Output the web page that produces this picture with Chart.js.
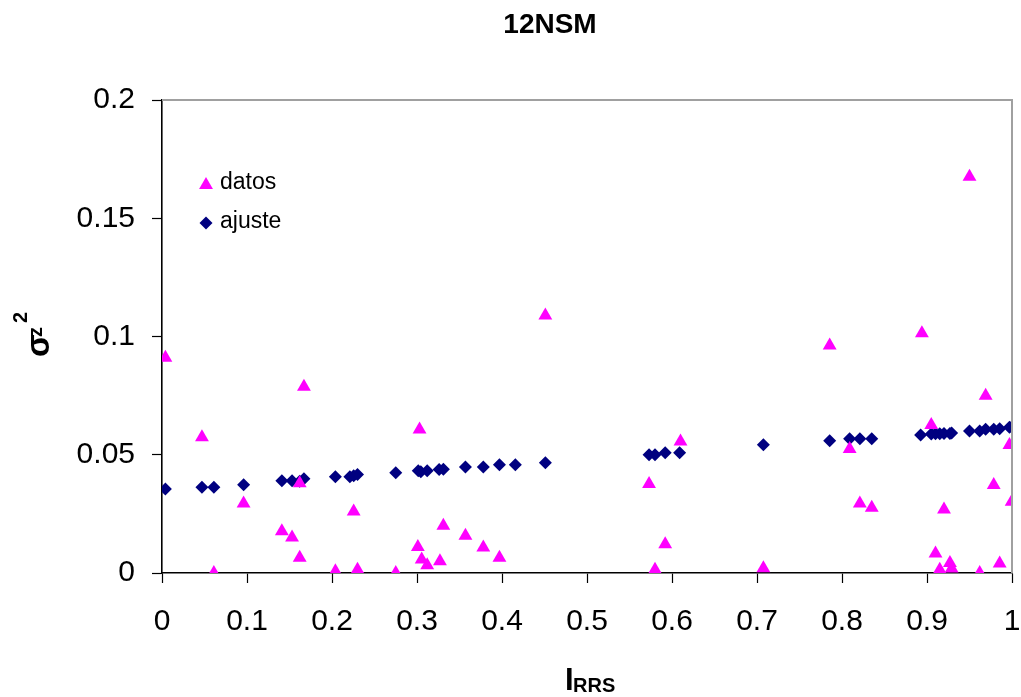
<!DOCTYPE html>
<html>
<head>
<meta charset="utf-8">
<script src="https://cdn.jsdelivr.net/npm/chart.js@4/dist/chart.umd.min.js"></script>
<style>
html,body{margin:0;padding:0;background:#fff;}
#wrap{width:1021px;height:697px;position:relative;}
</style>
</head>
<body>
<div id="wrap"><canvas id="c" width="1021" height="697"></canvas></div>
<script>
// datos (triangles)
const datosX = [0.004,0.047,0.061,0.096,0.141,0.153,0.162,0.162,0.167,0.204,0.2255,0.230,0.275,0.303,0.301,0.3055,0.312,0.327,0.331,0.357,0.378,0.397,0.451,0.573,0.580,0.592,0.610,0.7075,0.7855,0.809,0.821,0.835,0.894,0.905,0.910,0.915,0.920,0.927,0.929,0.950,0.962,0.969,0.9785,0.9855,0.997,0.9996];
const datosY = [0.091,0.0574,0.0,0.0294,0.0177,0.015,0.0379,0.0065,0.0788,0.0007,0.026,0.0014,0.0,0.0607,0.011,0.0057,0.0033,0.005,0.020,0.0157,0.0108,0.0065,0.1089,0.0376,0.0014,0.0122,0.0556,0.002,0.0962,0.0524,0.0294,0.0276,0.1014,0.0626,0.0082,0.0014,0.0269,0.0042,0.0019,0.1675,0.0,0.075,0.0372,0.004,0.0541,0.0301];
// ajuste (diamonds)
const ajusteX = [0.004,0.047,0.061,0.096,0.141,0.153,0.162,0.167,0.204,0.221,0.2255,0.230,0.275,0.3015,0.3045,0.312,0.326,0.331,0.357,0.378,0.397,0.4157,0.451,0.573,0.580,0.592,0.609,0.7075,0.7855,0.809,0.821,0.835,0.8925,0.905,0.910,0.915,0.920,0.927,0.929,0.950,0.962,0.969,0.9785,0.9855,0.997,0.9996];
const ajusteY = [0.0355,0.0363,0.0363,0.0373,0.039,0.039,0.0388,0.0398,0.0407,0.0407,0.0411,0.0417,0.0424,0.0432,0.0428,0.0432,0.0438,0.0439,0.0448,0.0448,0.0458,0.0458,0.0466,0.050,0.050,0.0508,0.0508,0.0542,0.0559,0.0568,0.0568,0.0568,0.0583,0.0588,0.0589,0.0589,0.059,0.059,0.0592,0.060,0.060,0.0608,0.0608,0.061,0.0616,0.0617];

const xTicks = [0,0.1,0.2,0.3,0.4,0.5,0.6,0.7,0.8,0.9,1];
const yTicks = [0,0.05,0.1,0.15,0.2];
const seriesNames = ['datos','ajuste'];
const chartTitle = '12NSM';

const MAG = '#FF00FF', NAVY = '#000080';
const FONT = '"Liberation Sans", Arial, sans-serif';

const toPts = (xs, ys) => xs.map((x, i) => ({x: x, y: ys[i]}));

const decor = {
  id: 'decor',
  afterDraw(chart) {
    const ctx = chart.ctx;
    const a = chart.chartArea;
    ctx.save();
    // top/right gray border
    ctx.strokeStyle = '#a0a0a0';
    ctx.lineWidth = 2;
    ctx.beginPath();
    ctx.moveTo(a.left, a.top);
    ctx.lineTo(a.right, a.top);
    ctx.lineTo(a.right, a.bottom);
    ctx.stroke();

    ctx.fillStyle = '#000';
    // title
    ctx.font = 'bold 28px ' + FONT;
    ctx.textAlign = 'center';
    ctx.textBaseline = 'alphabetic';
    ctx.fillText(chartTitle, 550, 33);

    // x axis title I_RRS
    ctx.textAlign = 'left';
    ctx.font = 'bold 31px ' + FONT;
    ctx.fillText('I', 565, 690);
    ctx.font = 'bold 20px ' + FONT;
    ctx.fillText('RRS', 573, 692);

    // y axis title sigma_z^2
    ctx.save();
    ctx.translate(48.5, 357);
    ctx.rotate(-Math.PI / 2);
    ctx.font = 'bold 33px ' + FONT;
    ctx.fillText('σ', 0, 0);
    ctx.font = 'bold 20px ' + FONT;
    ctx.fillText('z', 20, -6.8);
    ctx.fillText('2', 34, -21.8);
    ctx.restore();

    // legend
    ctx.font = '23px ' + FONT;
    ctx.fillText(seriesNames[0], 220, 189);
    ctx.fillText(seriesNames[1], 220, 228);
    // markers
    ctx.fillStyle = MAG;
    const r = 8;
    const cx = 206, cy = 185;
    ctx.beginPath();
    ctx.moveTo(cx, cy - r);
    ctx.lineTo(cx + r * Math.sqrt(3) / 2, cy + r / 2);
    ctx.lineTo(cx - r * Math.sqrt(3) / 2, cy + r / 2);
    ctx.closePath();
    ctx.fill();
    ctx.fillStyle = NAVY;
    const d = 6.5, dx = 206, dy = 223;
    ctx.beginPath();
    ctx.moveTo(dx - d, dy);
    ctx.lineTo(dx, dy - d);
    ctx.lineTo(dx + d, dy);
    ctx.lineTo(dx, dy + d);
    ctx.closePath();
    ctx.fill();
    ctx.restore();
  }
};

new Chart(document.getElementById('c'), {
  type: 'scatter',
  data: {
    datasets: [
      {label: seriesNames[0], data: toPts(datosX, datosY), pointStyle: 'triangle', pointRadius: 8, pointHoverRadius: 8,
       backgroundColor: MAG, borderColor: MAG, borderWidth: 0},
      {label: seriesNames[1], data: toPts(ajusteX, ajusteY), pointStyle: 'rectRot', pointRadius: 6.5, pointHoverRadius: 6.5,
       backgroundColor: NAVY, borderColor: NAVY, borderWidth: 0}
    ]
  },
  options: {
    responsive: false,
    animation: false,
    events: [],
    layout: {padding: {top: 100, right: 9, left: 0, bottom: 0}},
    plugins: {legend: {display: false}, title: {display: false}, tooltip: {enabled: false}},
    scales: {
      x: {
        type: 'linear', min: 0, max: 1,
        afterBuildTicks(s) { s.ticks = xTicks.map(v => ({value: v})); },
        afterFit(s) { s.height = 124; s.paddingLeft = 0; s.paddingRight = 0; },
        grid: {drawOnChartArea: false, drawTicks: true, tickLength: 10, tickColor: '#000', tickWidth: 1.2},
        border: {display: true, color: '#000', width: 1.6},
        ticks: {color: '#000', font: {family: FONT, size: 30}, padding: 21, maxRotation: 0,
                callback: v => String(v)}
      },
      y: {
        type: 'linear', min: 0, max: 0.2,
        afterBuildTicks(s) { s.ticks = yTicks.map(v => ({value: v})); },
        afterFit(s) { s.width = 162; s.paddingTop = 0; s.paddingBottom = 0; },
        grid: {drawOnChartArea: false, drawTicks: true, tickLength: 10, tickColor: '#000', tickWidth: 1.2},
        border: {display: true, color: '#000', width: 1.6},
        ticks: {color: '#000', font: {family: FONT, size: 30}, padding: 17,
                callback: v => String(v)}
      }
    }
  },
  plugins: [decor]
});
</script>
</body>
</html>
